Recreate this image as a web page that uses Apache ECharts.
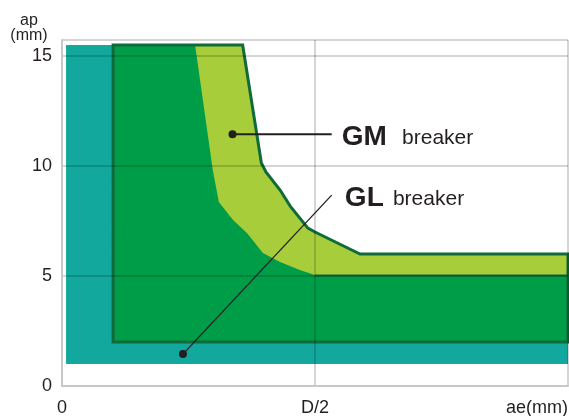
<!DOCTYPE html>
<html>
<head>
<meta charset="utf-8">
<script src="https://cdn.jsdelivr.net/npm/echarts@6/dist/echarts.min.js"></script>
<style>html,body{margin:0;padding:0;background:#fff;}#c{width:569px;height:416px;}</style>
</head>
<body>
<div id="c"></div>
<script>
// ---- data (x in % of D, y = ap in mm) ----
const xTickLabels = { 0: '0', 50: 'D/2', 100: 'ae(mm)' };
const yTicks = [0, 5, 10, 15];
const tealArea = [[0.8, 1.0], [100, 1.0], [100, 2.0], [10.1, 2.0], [10.1, 15.5], [0.8, 15.5]];
const gmArea = [[10.1, 15.5], [35.7, 15.5], [39.4, 10.14], [40.3, 9.73], [43.1, 8.91], [45.1, 8.18], [48.6, 7.18], [50, 7.0], [58.9, 6.0], [100, 6.0], [100, 2.0], [10.1, 2.0]];
const glArea = [[10.1, 15.5], [26.3, 15.5], [29.8, 9.82], [31.0, 8.36], [33.8, 7.55], [36.6, 6.95], [39.7, 6.05], [43.1, 5.64], [47, 5.27], [50, 5.05], [100, 5.0], [100, 2.0], [10.1, 2.0]];
const glTopEdge = [[50, 5.02], [100, 5.02]];
const gmLeader = [[33.7, 11.45], [53.3, 11.45]];
const glLeader = [[23.9, 1.45], [53.3, 8.68]];
const gmLabel = { big: 'GM', small: 'breaker', bigAt: [55.3, 11.3], smallAt: [67.2, 11.25] };
const glLabel = { big: 'GL', small: 'breaker', bigAt: [55.9, 8.55], smallAt: [65.4, 8.5] };

const TEAL = '#13a89e', DARK = '#009d48', LIGHT = '#a8cd3a', EDGE = '#0f6b3a', INK = '#231f20';
const FONT = '"Liberation Sans", Arial, sans-serif';

function polySeries(pts, style, z) {
  return {
    type: 'custom', z: z, silent: true, data: [[0, 0]],
    renderItem: function (params, api) {
      return { type: 'polygon', shape: { points: pts.map(p => api.coord(p)) }, style: style };
    }
  };
}
function lineSeries(pts, style, z) {
  return {
    type: 'custom', z: z, silent: true, data: [[0, 0]],
    renderItem: function (params, api) {
      return { type: 'polyline', shape: { points: pts.map(p => api.coord(p)) }, style: style };
    }
  };
}
function leaderSeries(pts, width, z) {
  return {
    type: 'custom', z: z, silent: true, data: [[0, 0]],
    renderItem: function (params, api) {
      const a = api.coord(pts[0]), b = api.coord(pts[1]);
      return { type: 'group', children: [
        { type: 'line', shape: { x1: a[0], y1: a[1], x2: b[0], y2: b[1] }, style: { stroke: INK, lineWidth: width } },
        { type: 'circle', shape: { cx: a[0], cy: a[1], r: 4 }, style: { fill: INK } }
      ] };
    }
  };
}
function labelSeries(lab, z) {
  return {
    type: 'custom', z: z, silent: true, data: [[0, 0]],
    renderItem: function (params, api) {
      const a = api.coord(lab.bigAt), b = api.coord(lab.smallAt);
      return { type: 'group', children: [
        { type: 'text', x: a[0], y: a[1], style: { text: lab.big, fill: INK, font: 'bold 28px ' + FONT, align: 'left', verticalAlign: 'middle' } },
        { type: 'text', x: b[0], y: b[1], style: { text: lab.small, fill: INK, font: '21px ' + FONT, align: 'left', verticalAlign: 'middle' } }
      ] };
    }
  };
}

const chart = echarts.init(document.getElementById('c'), null, { renderer: 'canvas' });
chart.setOption({
  animation: false,
  backgroundColor: '#fff',
  grid: { left: 62, right: 1, top: 40, bottom: 30, containLabel: false, outerBoundsMode: 'none' },
  xAxis: {
    type: 'value', min: 0, max: 100, interval: 50, z: 10,
    axisLine: { show: true, lineStyle: { color: '#c8c8c8', width: 2 } },
    axisTick: { show: false },
    splitLine: { show: true, lineStyle: { color: 'rgba(0,0,0,0.22)', width: 1.5 } },
    axisLabel: {
      formatter: v => (xTickLabels[v] !== undefined ? xTickLabels[v] : ''),
      alignMaxLabel: 'right', showMaxLabel: true, showMinLabel: true,
      fontSize: 18, color: INK, fontFamily: FONT, margin: 13
    }
  },
  yAxis: {
    type: 'value', min: 0, max: 15.73, interval: 5, z: 10,
    name: 'ap\n(mm)', nameLocation: 'end', nameGap: -3,
    nameTextStyle: { fontSize: 16, color: INK, fontFamily: FONT, align: 'center', verticalAlign: 'bottom', padding: [0, 66, 0, 0], lineHeight: 15 },
    axisLine: { show: true, lineStyle: { color: '#c8c8c8', width: 2 } },
    axisTick: { show: false },
    splitLine: { show: true, lineStyle: { color: 'rgba(0,0,0,0.22)', width: 1.5 } },
    axisLabel: {
      formatter: v => (yTicks.indexOf(v) >= 0 ? String(v) : ''),
      fontSize: 18, color: INK, fontFamily: FONT, margin: 10
    }
  },
  series: [
    polySeries(tealArea, { fill: TEAL }, 1),
    polySeries(gmArea, { fill: LIGHT }, 2),
    polySeries(glArea, { fill: DARK }, 3),
    polySeries(gmArea, { fill: null, stroke: EDGE, lineWidth: 3, lineJoin: 'miter' }, 4),
    lineSeries(glTopEdge, { fill: null, stroke: EDGE, lineWidth: 2 }, 4),
    leaderSeries(gmLeader, 2, 20),
    leaderSeries(glLeader, 1.3, 20),
    labelSeries(gmLabel, 20),
    labelSeries(glLabel, 20)
  ]
});
</script>
</body>
</html>
